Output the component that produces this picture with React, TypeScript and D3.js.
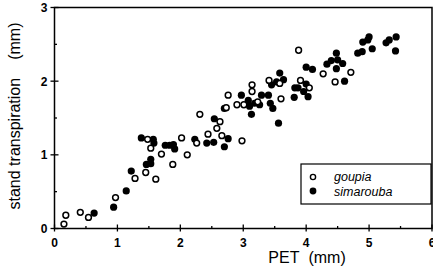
import React from "react";
import * as d3 from "d3";

// goupia (open circles)
const goupiaPet = [0.15, 0.18, 0.41, 0.54, 0.97, 1.28, 1.45, 1.48, 1.53, 1.61, 1.7, 1.88, 2.02, 2.11, 2.26, 2.31, 2.44, 2.58, 2.63, 2.66, 2.73, 2.76, 2.9, 2.98, 3.01, 3.14, 3.14, 3.23, 3.41, 3.58, 3.6, 3.88, 3.91, 4.05, 4.27, 4.46, 4.71];
const goupiaTr = [0.06, 0.18, 0.22, 0.15, 0.42, 0.68, 0.76, 1.21, 1.09, 0.67, 1.01, 0.87, 1.23, 1.0, 1.16, 1.55, 1.28, 1.36, 1.45, 1.26, 1.64, 1.81, 1.68, 1.19, 1.68, 1.95, 1.86, 1.72, 2.01, 1.97, 1.76, 2.42, 2.01, 1.91, 2.1, 1.99, 2.12];

// simarouba (filled circles)
const simPet = [0.63, 0.94, 1.14, 1.22, 1.38, 1.46, 1.53, 1.53, 1.57, 1.58, 1.76, 1.83, 1.89, 1.91, 2.23, 2.42, 2.53, 2.54, 2.7, 2.76, 2.7, 2.97, 3.08, 3.1, 3.13, 3.18, 3.26, 3.29, 3.4, 3.43, 3.45, 3.47, 3.56, 3.53, 3.58, 3.64, 3.81, 3.82, 3.87, 3.96, 4.0, 4.03, 4.0, 4.1, 4.33, 4.4, 4.48, 4.5, 4.48, 4.58, 4.61, 4.82, 4.89, 4.9, 4.98, 5.0, 5.05, 5.27, 5.32, 5.43, 5.42];
const simTr = [0.21, 0.29, 0.51, 0.78, 1.23, 0.87, 0.94, 0.88, 1.21, 1.16, 1.13, 1.13, 1.14, 1.08, 1.21, 1.16, 1.17, 1.49, 1.11, 1.22, 1.63, 1.81, 1.74, 1.66, 1.55, 1.7, 1.68, 1.81, 1.81, 1.7, 1.95, 1.63, 1.43, 1.99, 2.11, 2.02, 1.78, 1.91, 1.91, 1.86, 1.96, 1.79, 2.19, 2.16, 2.23, 2.28, 2.38, 2.29, 2.17, 2.24, 2.0, 2.38, 2.4, 2.53, 2.56, 2.6, 2.44, 2.52, 2.56, 2.6, 2.41];

const xTicks = [0, 1, 2, 3, 4, 5, 6];
const yTicks = [0, 1, 2, 3];

export default function App() {
  const W = 433;
  const H = 271;
  const left = 54.5;
  const right = 432;
  const top = 7.5;
  const bottom = 228.5;
  const x = d3.scaleLinear().domain([0, 6]).range([left, right]);
  const y = d3.scaleLinear().domain([0, 3]).range([bottom, top]);
  const xMinor = d3.range(0.5, 6, 1);
  const yMinor = d3.range(0.5, 3, 1);
  const font = "Liberation Sans, Arial, sans-serif";

  return (
    <svg width={W} height={H} style={{ position: "absolute", left: 0, top: 0, background: "#fff" }}>
      <rect x={left} y={top} width={right - left} height={bottom - top} fill="none" stroke="#000" strokeWidth={1.5} />
      {xTicks.map((t) => (
        <g key={"xt" + t}>
          <line x1={x(t)} x2={x(t)} y1={bottom - 4} y2={bottom + 3} stroke="#000" strokeWidth={1.3} />
          <text x={x(t)} y={bottom + 18} textAnchor="middle" fontFamily={font} fontWeight="bold" fontSize={12}>{t}</text>
        </g>
      ))}
      {xMinor.map((t) => (
        <line key={"xm" + t} x1={x(t)} x2={x(t)} y1={bottom - 2.5} y2={bottom} stroke="#000" strokeWidth={1.3} />
      ))}
      {yTicks.map((t) => (
        <g key={"yt" + t}>
          <line x1={left - 4} x2={left + 4} y1={y(t)} y2={y(t)} stroke="#000" strokeWidth={1.3} />
          <text x={left - 7} y={y(t) + 4.5} textAnchor="end" fontFamily={font} fontWeight="bold" fontSize={12}>{t}</text>
        </g>
      ))}
      {yMinor.map((t) => (
        <line key={"ym" + t} x1={left} x2={left + 2.5} y1={y(t)} y2={y(t)} stroke="#000" strokeWidth={1.3} />
      ))}
      {simPet.map((v, i) => (
        <circle key={"s" + i} cx={x(v)} cy={y(simTr[i])} r={3.6} fill="#000" />
      ))}
      {goupiaPet.map((v, i) => (
        <circle key={"g" + i} cx={x(v)} cy={y(goupiaTr[i])} r={2.9} fill="#fff" stroke="#000" strokeWidth={1.5} />
      ))}
      <text x={307} y={263} textAnchor="middle" fontFamily={font} fontSize={16}>
        <tspan>PET</tspan>
        <tspan dx={9}>(mm)</tspan>
      </text>
      <text transform={`translate(20,116) rotate(-90)`} textAnchor="middle" fontFamily={font} fontSize={16}>
        <tspan>stand transpiration</tspan>
        <tspan dx={18}>(mm)</tspan>
      </text>
      <g>
        <rect x={301} y={164} width={130} height={40} fill="#fff" stroke="#000" strokeWidth={1.2} />
        <circle cx={313} cy={177} r={2.6} fill="#fff" stroke="#000" strokeWidth={1.4} />
        <circle cx={313} cy={191} r={3.4} fill="#000" />
        <text x={334} y={181} fontFamily={font} fontStyle="italic" fontSize={12.5}>goupia</text>
        <text x={334} y={196} fontFamily={font} fontStyle="italic" fontSize={12.5}>simarouba</text>
      </g>
    </svg>
  );
}
